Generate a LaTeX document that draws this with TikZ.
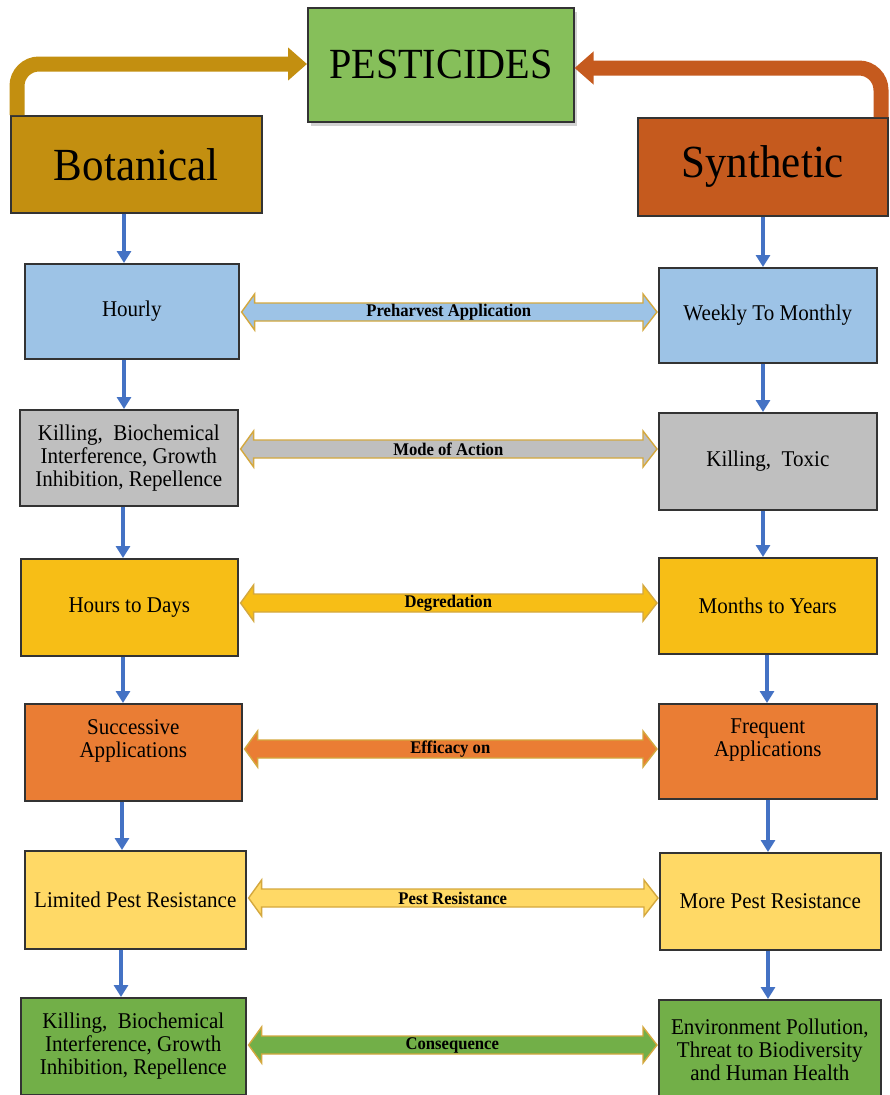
\documentclass[tikz,border=0pt]{standalone}
\usepackage{fontspec}
\setmainfont{Liberation Serif}[FakeStretch=0.935]
\usetikzlibrary{arrows.meta,calc,shadows}
\definecolor{cPest}{RGB}{134,191,90}
\definecolor{cBot}{RGB}{195,143,16}
\definecolor{cSyn}{RGB}{197,90,30}
\definecolor{cBlue}{RGB}{157,195,230}
\definecolor{cGray}{RGB}{191,191,191}
\definecolor{cGold}{RGB}{247,190,22}
\definecolor{cOrange}{RGB}{234,125,52}
\definecolor{cLYellow}{RGB}{255,217,102}
\definecolor{cGreen}{RGB}{114,175,72}
\definecolor{cArrow}{RGB}{68,114,196}
\definecolor{cEdge}{RGB}{212,168,62}
\tikzset{
  box/.style={draw=black!80, line width=1.6pt, align=center, inner sep=2pt,
    anchor=north west, font=\fontsize{22.5}{23}\selectfont},
  bigbox/.style={box, font=\fontsize{46}{48}\selectfont},
  varr/.style={draw=cArrow, line width=4pt, -{Triangle[length=12pt,width=14pt]}},
  bentarrow/.style={line width=15pt, rounded corners=22pt, -{Triangle[length=19pt,width=32pt]}},
  dblarrow/.style={draw=cEdge, line width=1.4pt, line join=miter},
  lbl/.style={font=\bfseries\fontsize{17.8}{18}\selectfont, inner sep=0pt},
}
\newcommand\dblarr[5]{%
  \path[dblarrow,fill=#4] let \p1=(#1.east |- 0,#3), \p2=(#2.west |- 0,#3) in
    (\x1+2pt,\y1) -- (\x1+15pt,\y1+18pt) -- (\x1+15pt,\y1+9pt) -- (\x2-15pt,\y1+9pt)
    -- (\x2-15pt,\y1+18pt) -- (\x2-1pt,\y1) -- (\x2-15pt,\y1-18pt) -- (\x2-15pt,\y1-9pt)
    -- (\x1+15pt,\y1-9pt) -- (\x1+15pt,\y1-18pt) -- cycle;
  \node[lbl] at ($(#1.east |- 0,#3)!0.5!(#2.west |- 0,#3)$) {#5};
}
\begin{document}
\begin{tikzpicture}[x=1pt,y=-1pt]
\useasboundingbox (0,0) rectangle (889,1095);
\fill[white] (0,0) rectangle (889,1095);

% top level
\node[box, fill=cPest, minimum width=266pt, minimum height=114pt,
  font=\fontsize{43}{44}\selectfont,
  drop shadow={shadow xshift=3pt, shadow yshift=-4pt, fill=black!35}] (pest) at (307,7) {PESTICIDES};
\node[bigbox, fill=cBot, minimum width=251pt, minimum height=97pt] (bot) at (10,115) {Botanical};
\node[bigbox, fill=cSyn, minimum width=250pt, minimum height=98pt] (syn) at (637,117) {Synthetic};

\draw[bentarrow, cBot] (bot.north -| 17,0) |- (pest.west |- 0,64);
\draw[bentarrow, cSyn] (syn.north -| 881,0) |- (pest.east |- 0,68);

% left column
\node[box, fill=cBlue,   minimum width=214pt, minimum height=95pt] (l1) at (24,263) {Hourly};
\node[box, fill=cGray,   minimum width=218pt, minimum height=96pt] (l2) at (19,409) {Killing,\ \ Biochemical\\Interference, Growth\\Inhibition, Repellence};
\node[box, fill=cGold,   minimum width=217pt, minimum height=97pt] (l3) at (20,558) {Hours to Days};
\node[box, fill=cOrange, minimum width=217pt, minimum height=97pt] (l4) at (24,703) {Successive\\Applications\\[4pt]};
\node[box, fill=cLYellow,minimum width=221pt, minimum height=98pt] (l5) at (24,850) {Limited Pest Resistance};
\node[box, fill=cGreen,  minimum width=225pt, minimum height=97pt] (l6) at (20,997) {Killing,\ \ Biochemical\\Interference, Growth\\Inhibition, Repellence};

% right column
\node[box, fill=cBlue,   minimum width=218pt, minimum height=95pt] (r1) at (658,267) {Weekly To Monthly};
\node[box, fill=cGray,   minimum width=218pt, minimum height=97pt] (r2) at (658,412) {Killing,\ \ Toxic};
\node[box, fill=cGold,   minimum width=218pt, minimum height=96pt] (r3) at (658,557) {Months to Years};
\node[box, fill=cOrange, minimum width=218pt, minimum height=95pt] (r4) at (658,703) {Frequent\\Applications\\[4pt]};
\node[box, fill=cLYellow,minimum width=221pt, minimum height=97pt] (r5) at (659,852) {More Pest Resistance};
\node[box, fill=cGreen,  minimum width=222pt, minimum height=100pt] (r6) at (658,999) {Environment Pollution,\\Threat to Biodiversity\\and Human Health};

% vertical arrows
\draw[varr] (bot.south -| 124,0) -- (l1.north -| 124,0);
\draw[varr] (l1.south -| 124,0) -- (l2.north -| 124,0);
\draw[varr] (l2.south -| 123,0) -- (l3.north -| 123,0);
\draw[varr] (l3.south -| 123,0) -- (l4.north -| 123,0);
\draw[varr] (l4.south -| 122,0) -- (l5.north -| 122,0);
\draw[varr] (l5.south -| 121,0) -- (l6.north -| 121,0);
\draw[varr] (syn.south -| 763,0) -- (r1.north -| 763,0);
\draw[varr] (r1.south -| 763,0) -- (r2.north -| 763,0);
\draw[varr] (r2.south -| 763,0) -- (r3.north -| 763,0);
\draw[varr] (r3.south -| 767,0) -- (r4.north -| 767,0);
\draw[varr] (r4.south -| 768,0) -- (r5.north -| 768,0);
\draw[varr] (r5.south -| 768,0) -- (r6.north -| 768,0);

% horizontal double arrows
\dblarr{l1}{r1}{312}{cBlue}{Preharvest Application}
\dblarr{l2}{r2}{449}{cGray}{Mode of Action}
\dblarr{l3}{r3}{603}{cGold}{Degredation}
\dblarr{l4}{r4}{749}{cOrange}{Efficacy on}
\dblarr{l5}{r5}{898}{cLYellow}{Pest Resistance}
\dblarr{l6}{r6}{1045}{cGreen}{Consequence}
\end{tikzpicture}
\end{document}
